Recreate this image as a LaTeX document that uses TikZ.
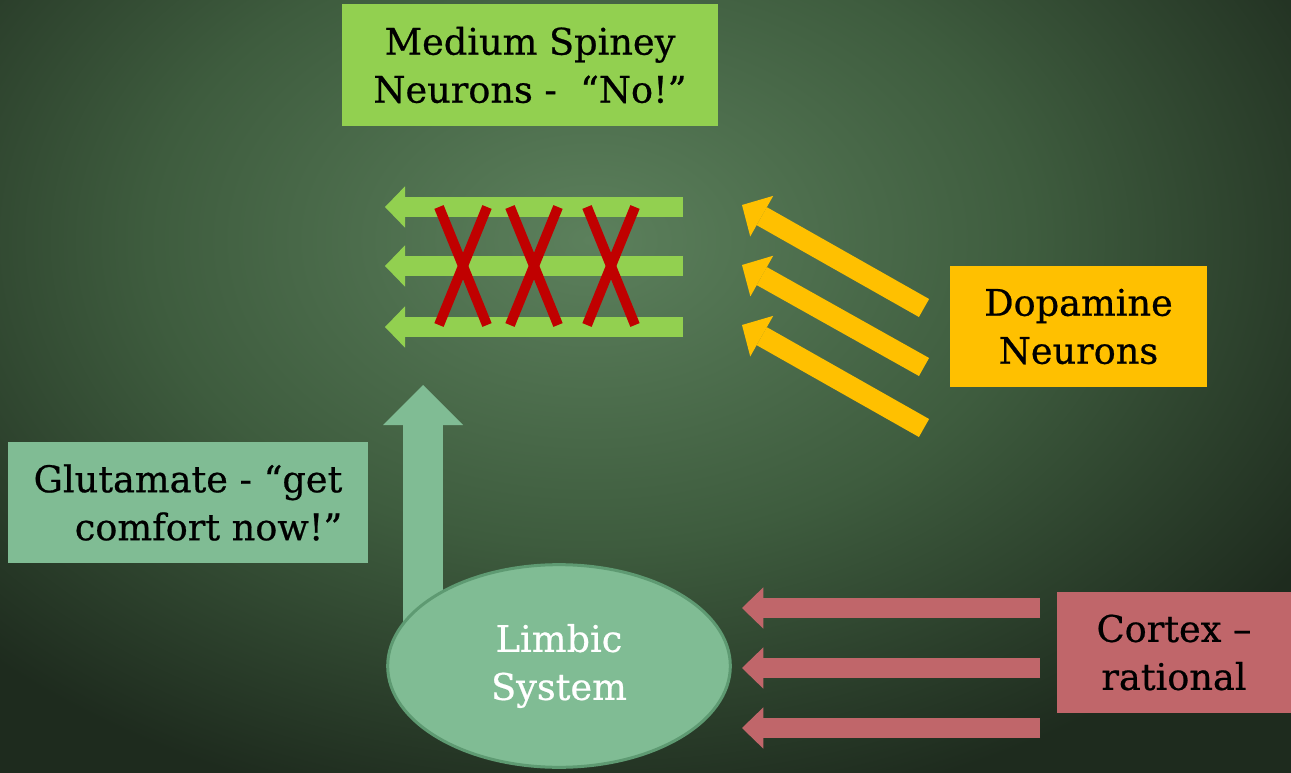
\documentclass[tikz,border=0pt]{standalone}
\usepackage{fontspec}
\setmainfont{DejaVu Serif}[FakeBold=0.6]
\usepackage{tikz}
\usetikzlibrary{calc}
\usetikzlibrary{shapes.geometric}
\usetikzlibrary{arrows.meta}
\usetikzlibrary{backgrounds}

\definecolor{msngreen}{HTML}{92D050}
\definecolor{dopaorange}{HTML}{FFC000}
\definecolor{limbgreen}{HTML}{80BC94}
\definecolor{limbedge}{HTML}{5E9A72}
\definecolor{ctxred}{HTML}{C0666A}
\definecolor{crossred}{HTML}{C00000}
\definecolor{bgA}{HTML}{5C805C}
\definecolor{bgB}{HTML}{3E5C3E}
\definecolor{bgC}{HTML}{1E2B1E}

\pgfdeclareradialshading{bgglow}{\pgfpoint{0bp}{0bp}}{color(0bp)=(bgA); color(13bp)=(bgB); color(25bp)=(bgC); color(50bp)=(bgC)}

\newcommand{\boxfont}{\fontsize{27.5}{36}\selectfont}
\newcommand{\crossout}[1]{\draw[crossline] ($(#1)+(-24,-59)$) -- ($(#1)+(24,59)$); \draw[crossline] ($(#1)+(24,-59)$) -- ($(#1)+(-24,59)$);}

\tikzset{
  labelbox/.style={rectangle, draw=none, inner sep=0pt, font=\boxfont, align=center},
  msnarrow/.style={draw=msngreen, line width=15pt, -{Triangle[length=15pt,width=31pt,line width=0pt]}},
  dopaarrow/.style={draw=dopaorange, line width=15.5pt, -{Triangle[length=17pt,width=35pt,line width=0pt]}},
  ctxarrow/.style={draw=ctxred, line width=15pt, -{Triangle[length=16pt,width=31pt,line width=0pt]}},
  glutarrow/.style={draw=limbgreen, line width=30pt, -{Triangle[length=30pt,width=60pt,line width=0pt]}},
  crossline/.style={draw=crossred, line width=7.5pt}
}

\begin{document}
\begin{tikzpicture}[x=0.75pt,y=-0.75pt]
        \useasboundingbox (0,0) rectangle (1291,773);

        % backdrop
        \begin{scope}[on background layer]
          \fill[bgC] (0,0) rectangle (1291,773);
          \begin{scope}
            \clip (0,0) rectangle (1291,773);
            \shade[shading=bgglow] (590,240) ellipse (640pt and 440pt);
          \end{scope}
        \end{scope}

        % boxes
        \node[labelbox, fill=msngreen, minimum width=282pt, minimum height=91.5pt] (msn) at (530,65) {Medium Spiney\\Neurons -\ \ “No!”};
        \node[labelbox, fill=dopaorange, minimum width=192.75pt, minimum height=90.75pt] (dopa) at (1078.5,326.5) {Dopamine\\Neurons};
        \node[labelbox, fill=limbgreen, minimum width=270pt, minimum height=90.75pt, align=right] (glut) at (188,502.5) {Glutamate - “get\\comfort now!”};
        \node[labelbox, fill=ctxred, minimum width=175.5pt, minimum height=90.75pt] (ctx) at (1174,652.5) {Cortex –\\rational};
        \node[ellipse, fill=limbgreen, draw=limbedge, line width=2.25pt, minimum width=257pt, minimum height=152pt, inner sep=0pt, text=white, font=\boxfont, align=center] (limbic) at (559,666) {Limbic\\System};

        % glutamate up
        \coordinate (uptip) at (423,385);
        \begin{scope}[on background layer]
          \draw[glutarrow] (limbic.center -| uptip) -- (uptip);
        \end{scope}

        % spiney neurons
        \foreach \i/\y in {1/207,2/266,3/327} {
          \coordinate (mt\i) at (683,\y);
          \coordinate (mh\i) at (385,\y);
          \draw[msnarrow] (mt\i) -- (mh\i);
        }

        % dopamine
        \foreach \i/\y/\z in {1/308/205,2/367/265,3/428/325} {
          \coordinate (dt\i) at (924,\y);
          \coordinate (dh\i) at (742,\z);
          \draw[dopaarrow] (dt\i) -- (dh\i);
        }

        % cortex
        \foreach \i/\y in {1/608,2/668,3/728} {
          \coordinate (ct\i) at (1040,\y);
          \coordinate (ch\i) at (742,\y);
          \draw[ctxarrow] (ct\i) -- (ch\i);
        }

        % crosses
        \coordinate (x1) at (463,266);
        \coordinate (x2) at (534,266);
        \coordinate (x3) at (611,266);
        \crossout{x1}
        \crossout{x2}
        \crossout{x3}

\end{tikzpicture}
\end{document}
